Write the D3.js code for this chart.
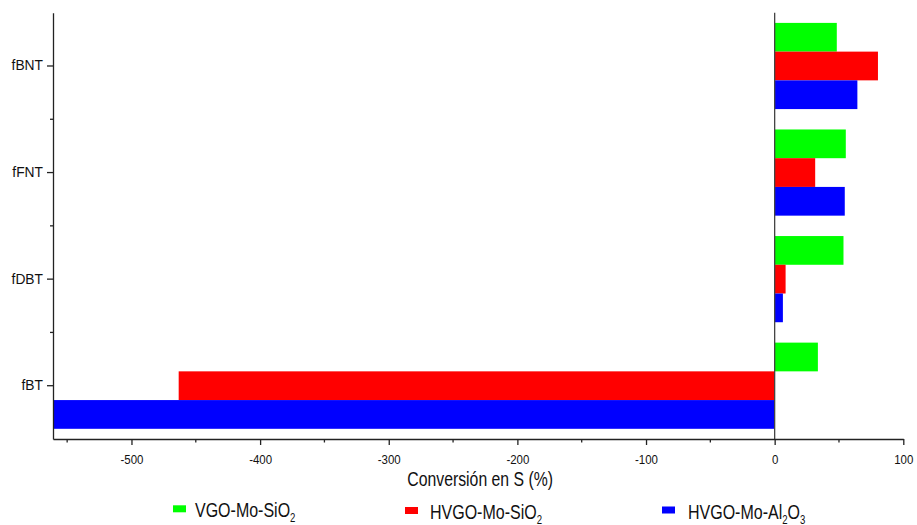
<!DOCTYPE html>
<html>
<head>
<meta charset="utf-8">
<script src="https://cdn.jsdelivr.net/npm/d3@7"></script>
<style>
  html, body { margin: 0; padding: 0; background: #fff; }
  svg { display: block; }
  svg text { font-family: "Liberation Sans", Arial, sans-serif; }
</style>
</head>
<body>
<svg id="chart" width="917" height="525"></svg>
<script>
// Compound categories, top to bottom
const categories = ["fBNT", "fFNT", "fDBT", "fBT"];
// Series names (subscript digits handled when drawing the legend)
const seriesNames = ["VGO-Mo-SiO2", "HVGO-Mo-SiO2", "HVGO-Mo-Al2O3"];
const seriesColors = ["#00ff00", "#ff0000", "#0000ff"];
// Sulfur conversion (%) per category, in the order of `categories`
const vgoMoSiO2   = [48.3, 55.3, 53.5, 33.6];
const hvgoMoSiO2  = [80.3, 31.5, 8.5, -463.3];
const hvgoMoAl2O3 = [64.3, 54.5, 6.4, -575];
const seriesValues = [vgoMoSiO2, hvgoMoSiO2, hvgoMoAl2O3];
// Axis ticks
const xMajorTicks = [-500, -400, -300, -200, -100, 0, 100];
const xMinorTicks = [-550, -450, -350, -250, -150, -50, 50];
const xTitle = "Conversión en S (%)";

const svg = d3.select("#chart");
const plotLeft = 53, plotRight = 903.3, plotTop = 12.7, plotBottom = 439;
const font = "'Liberation Sans', Arial, sans-serif";

const x = d3.scaleLinear().domain([-561, 100]).range([plotLeft, plotRight]);
const y = d3.scaleBand().domain(categories).range([plotTop, plotBottom]).paddingInner(0).paddingOuter(0);
const ySeries = d3.scaleBand().domain(d3.range(seriesNames.length))
  .range([0, y.bandwidth()]).paddingInner(0).paddingOuter(0.355);

svg.append("defs").append("clipPath").attr("id", "plotClip")
  .append("rect").attr("x", plotLeft).attr("y", plotTop)
  .attr("width", plotRight - plotLeft).attr("height", plotBottom - plotTop);

// Bars
const barsG = svg.append("g").attr("clip-path", "url(#plotClip)");
seriesValues.forEach((vals, si) => {
  barsG.selectAll(null).data(categories).enter().append("rect")
    .attr("x", (c, i) => x(Math.min(0, vals[i])))
    .attr("width", (c, i) => Math.abs(x(vals[i]) - x(0)))
    .attr("y", c => y(c) + ySeries(si))
    .attr("height", ySeries.bandwidth())
    .attr("fill", seriesColors[si]);
});

// Zero line
svg.append("line")
  .attr("x1", x(0)).attr("x2", x(0)).attr("y1", plotTop).attr("y2", plotBottom)
  .attr("stroke", "#444").attr("stroke-width", 1.3);

// X axis (condensed tick labels, plain hyphen minus)
const xAxis = svg.append("g").attr("transform", `translate(0,${plotBottom})`)
  .call(d3.axisBottom(x).tickValues(xMajorTicks).tickFormat(d => String(d))
    .tickSize(6).tickSizeOuter(0).tickPadding(9));
xAxis.attr("font-family", font);
xAxis.select(".domain").attr("stroke", "#222").attr("stroke-width", 1.3);
xAxis.selectAll(".tick line").attr("stroke", "#222").attr("stroke-width", 1.3);
xAxis.selectAll(".tick text").attr("font-size", 13.5).attr("fill", "#111")
  .attr("transform", "scale(0.85,1)");
xAxis.selectAll(".minor").data(xMinorTicks).enter().append("line")
  .attr("x1", d => x(d)).attr("x2", d => x(d)).attr("y1", 0).attr("y2", 3.5)
  .attr("stroke", "#222").attr("stroke-width", 1.3);

// Y axis
const yAxis = svg.append("g").attr("transform", `translate(${plotLeft},0)`)
  .call(d3.axisLeft(y).tickSize(6).tickSizeOuter(0).tickPadding(4));
yAxis.attr("font-family", font);
yAxis.select(".domain").attr("stroke", "#222").attr("stroke-width", 1.3);
yAxis.selectAll(".tick line").attr("stroke", "#222").attr("stroke-width", 1.3);
yAxis.selectAll(".tick text").attr("font-size", 13.8).attr("fill", "#111");
yAxis.selectAll(".minor").data(categories.slice(1)).enter().append("line")
  .attr("x1", 0).attr("x2", -3).attr("y1", c => y(c)).attr("y2", c => y(c))
  .attr("stroke", "#222").attr("stroke-width", 1.3);

// Axis title
svg.append("g").attr("transform", `translate(${(plotLeft + plotRight) / 2 + 2},485.5) scale(0.81,1)`)
  .append("text").attr("text-anchor", "middle").attr("font-size", 19.5).attr("fill", "#111")
  .text(xTitle);

// Legend: chemical formulas with subscripted digits
const legendX = [[173, 195], [405, 430], [662, 688]];
const legendY = [517.3, 519, 518.5];
seriesNames.forEach((name, i) => {
  const [sx, tx] = legendX[i];
  svg.append("rect").attr("x", sx).attr("y", legendY[i] - 12).attr("width", 13).attr("height", 7)
    .attr("fill", seriesColors[i]);
  const t = svg.append("g").attr("transform", `translate(${tx},${legendY[i]}) scale(0.8,1)`)
    .append("text").attr("font-size", 20).attr("fill", "#111");
  let shifted = false;
  name.split(/(\d)/).filter(s => s.length).forEach(part => {
    if (/\d/.test(part)) {
      t.append("tspan").attr("font-size", 12).attr("dy", shifted ? 0 : 5).text(part);
      shifted = true;
    } else {
      t.append("tspan").attr("dy", shifted ? -5 : 0).text(part);
      shifted = false;
    }
  });
});
</script>
</body>
</html>
